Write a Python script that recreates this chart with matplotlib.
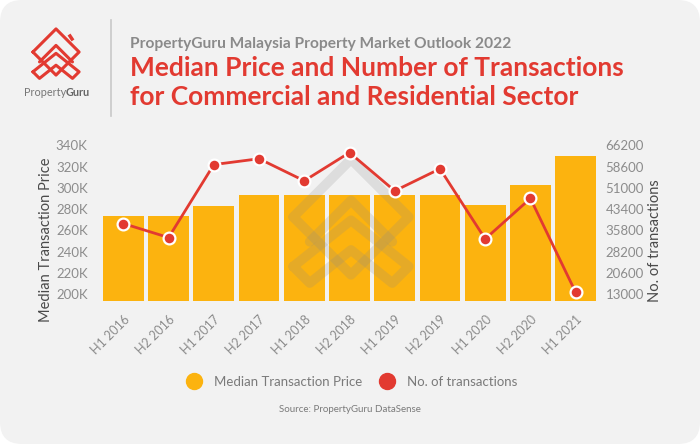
import matplotlib.pyplot as plt
from matplotlib.patches import FancyBboxPatch
from matplotlib.lines import Line2D

# data
periods = ['H1 2016', 'H2 2016', 'H1 2017', 'H2 2017', 'H1 2018', 'H2 2018',
           'H1 2019', 'H2 2019', 'H1 2020', 'H2 2020', 'H1 2021']
median_price = [273000, 273000, 283000, 293000, 293000, 293000,
                293000, 293000, 284000, 303000, 330000]
transactions = [38200, 33200, 59300, 61400, 53500, 63600,
                49900, 57800, 32700, 47200, 13600]
price_ticks = [200000, 220000, 240000, 260000, 280000, 300000, 320000, 340000]
trans_ticks = [13000, 20600, 28200, 35800, 43400, 51000, 58600, 66200]

BG = '#f2f2f2'
BAR = '#fcb30f'
RED = '#e23a31'
GREY = '#8c8c8c'
DARK = '#4a4a4a'
FONT = 'Lato'

plt.rcParams['font.family'] = [FONT, 'DejaVu Sans']

fig = plt.figure(figsize=(7, 4.44), dpi=100, facecolor='white')

# background card in pixel coordinates (y down)
bg = fig.add_axes([0, 0, 1, 1], zorder=0)
bg.set_xlim(0, 700)
bg.set_ylim(444, 0)
bg.axis('off')
bg.add_patch(FancyBboxPatch((0, 0), 700, 444, boxstyle='round,pad=0,rounding_size=22',
                            fc=BG, ec='none'))

# header
bg.plot([111, 111], [20, 116], color='#c8c8c8', lw=1.2)
bg.text(130, 44, 'PropertyGuru Malaysia Property Market Outlook 2022', color='#8a8a8a',
        fontsize=11.2, fontweight='bold', va='center', ha='left')
bg.text(130, 68, 'Median Price and Number of Transactions', color=RED,
        fontsize=19, fontweight='bold', va='center', ha='left')
bg.text(130, 97, 'for Commercial and Residential Sector', color=RED,
        fontsize=19, fontweight='bold', va='center', ha='left')

# logo (rough)
def logo(cx, cy, s, color, lw, alpha=1.0, z=1, ax=bg):
    shapes = [
        [(-35, 0), (0, -35), (35, 0), (0, 35), (-35, 0)],
        [(-25, 15), (0, -10), (25, 15)],
        [(-35, 30), (0, 2), (35, 30), (25, 40), (0, 20), (-25, 40), (-35, 30)],
    ]
    for pts in shapes:
        ax.plot([cx + s * p[0] for p in pts], [cy + s * p[1] for p in pts], color=color,
                lw=lw, alpha=alpha, solid_joinstyle='round', solid_capstyle='round', zorder=z)

logo(56, 52, 0.66, RED, 2.2)
bg.plot([70, 72], [36, 39], color=RED, lw=2.5)
bg.text(66, 92, 'Property', color='#777777', fontsize=7.8, ha='right', va='center')
bg.text(66, 92, 'Guru', color='#666666', fontsize=7.8, fontweight='bold', ha='left', va='center')

# main chart
ax = fig.add_axes([103 / 700, 1 - 301 / 444, (596 - 103) / 700, (301 - 140) / 444], zorder=1)
ax.patch.set_alpha(0)
x = range(len(periods))
ax.bar(x, median_price, width=0.9, color=BAR, label='Median Transaction Price')
ax.set_xlim(-0.45, len(periods) - 0.55)
ax.set_ylim(193400, 345000)
ax.set_yticks(price_ticks)
ax.set_yticklabels([f'{int(v / 1000)}K' for v in price_ticks])
ax.set_xticks(list(x))
ax.set_xticklabels(periods, rotation=45, ha='right', rotation_mode='anchor')
ax.tick_params(length=0, colors=GREY, labelsize=9.5)
ax.tick_params(axis='x', pad=9, labelsize=9)
ax.tick_params(axis='y', pad=11)
for sp in ax.spines.values():
    sp.set_visible(False)

# watermark between bars and line
wm = fig.add_axes([0, 0, 1, 1], zorder=2)
wm.set_xlim(0, 700)
wm.set_ylim(444, 0)
wm.axis('off')
logo(351, 217, 1.65, '#8a8a8a', 7, alpha=0.2, ax=wm)

ax2 = ax.twinx()
ax2.set_zorder(3)
ax2.patch.set_visible(False)
ax2.plot(list(x), transactions, color=RED, lw=2, marker='o', markersize=8.5,
         markerfacecolor=RED, markeredgecolor='white', markeredgewidth=1.6,
         label='No. of transactions')
ax2.set_ylim(10490, 68100)
ax2.set_yticks(trans_ticks)
ax2.tick_params(length=0, colors=GREY, labelsize=9.5, pad=7)
for sp in ax2.spines.values():
    sp.set_visible(False)

bg.text(46, 240, 'Median Transaction Price', rotation=90, color=DARK, fontsize=10.5,
        ha='center', va='center')
bg.text(655, 241, 'No. of transactions', rotation=90, color=DARK, fontsize=10.5,
        ha='center', va='center')

handles = [Line2D([], [], ls='', marker='o', color=BAR, markersize=11.5),
           Line2D([], [], ls='', marker='o', color=RED, markersize=11.5)]
fig.legend(handles, ['Median Transaction Price', 'No. of transactions'], ncol=2,
           loc='center', bbox_to_anchor=(349 / 700, 1 - 382 / 444), frameon=False,
           fontsize=9.5, labelcolor='#7a7a7a', handletextpad=0.5, columnspacing=0.9)

bg.text(350, 409, 'Source: PropertyGuru DataSense', color='#7a7a7a', fontsize=7,
        ha='center', va='center')

fig.savefig('out.png', dpi=100, facecolor='white')
